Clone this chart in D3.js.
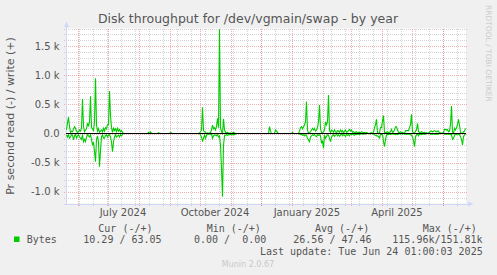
<!DOCTYPE html>
<html>
<head>
<meta charset="utf-8">
<script src="https://cdn.jsdelivr.net/npm/d3@7"></script>
<style>
  html, body { margin: 0; padding: 0; background: #f0f0f0; }
  svg { display: block; }
</style>
</head>
<body>
<script>
// ---------------- DATA ----------------
const startDate = "2024-05-20T01:00:03Z";
const endDate = "2025-06-24T01:00:03Z";

// daily averages, bytes per second (write = up, read = down)
const writeValues = [
  60,180,280,120,20,40,30,80,117,90,40,20,30,60,40,90,591,120,30,60,
  80,180,120,200,640,100,85,40,200,946,150,40,85,20,40,60,30,89,40,100,
  80,150,150,729,300,100,20,90,50,80,30,90,40,70,30,50,20,0,0,0,
  0,0,0,0,0,0,0,0,0,0,0,0,0,0,0,0,0,0,0,0,
  0,0,20,0,30,0,0,0,0,0,0,0,15,0,0,0,0,0,0,0,
  0,0,0,0,20,10,0,0,0,0,0,0,0,0,0,0,0,0,0,0,
  0,0,0,0,0,0,0,0,0,0,0,0,0,10,30,60,449,50,30,20,
  0,10,5,10,20,60,146,80,100,60,120,260,100,1786,100,30,0,250,60,20,
  10,20,10,0,10,0,10,20,10,0,0,0,0,0,0,0,0,0,0,0,
  0,0,0,0,0,0,0,0,0,0,0,0,0,0,0,0,0,0,0,0,
  0,0,0,117,40,0,0,0,0,60,40,20,0,0,0,0,0,0,0,0,
  0,0,0,0,0,0,20,0,0,0,0,0,0,40,100,117,80,117,146,200,
  546,60,0,10,30,60,89,60,89,40,60,100,200,489,80,20,0,30,60,200,
  150,200,660,50,20,60,50,20,60,30,10,50,40,20,60,30,50,10,40,60,
  20,30,50,70,40,60,20,30,10,20,30,10,20,20,10,30,20,10,20,10,
  20,10,0,0,10,10,0,20,100,150,243,20,0,10,100,100,214,306,20,10,
  20,30,10,20,30,71,20,30,60,117,117,60,20,10,30,10,20,10,0,50,
  50,50,50,100,150,329,30,10,0,40,60,174,30,20,10,30,20,10,20,10,
  10,0,10,20,40,40,30,40,50,40,30,40,40,10,10,0,10,10,70,70,
  60,70,30,40,150,471,30,0,89,60,100,150,243,146,20,0,0,30,40,89
];
const readValues = [
  -20,-60,-20,-80,-60,-20,-30,-110,-40,-20,-80,-40,-20,-60,-80,-100,-20,-140,-100,-140,
  -60,-20,-40,-60,-20,-100,-200,-150,-300,-483,-100,-40,-150,-570,-300,-60,-20,-80,-80,-30,
  -20,-60,-30,-20,-60,-150,-311,-150,-60,-20,-60,-40,-30,-60,-20,-40,-20,0,0,0,
  0,0,0,0,0,0,0,0,0,0,0,0,0,0,0,0,0,0,0,0,
  0,0,0,0,0,0,0,0,0,0,0,0,0,0,0,0,0,0,0,0,
  0,0,0,0,0,0,0,0,0,0,0,0,0,0,0,0,0,0,0,0,
  0,0,0,0,0,0,0,0,0,0,0,0,0,0,-30,-60,-140,-80,-30,-83,
  -30,-10,-10,-10,-10,-10,-83,-40,-20,-30,-40,-20,-60,-40,-200,-600,-1083,-200,-40,-30,
  -20,-30,-20,-20,-20,-20,-20,-20,-20,-10,0,0,0,0,0,0,0,0,0,0,
  0,0,0,0,0,0,0,0,0,0,0,0,0,0,0,0,0,0,0,0,
  0,0,0,0,0,0,0,0,0,0,0,0,0,0,0,0,0,0,0,0,
  0,0,0,0,0,0,0,0,0,0,0,0,0,-10,-20,-10,-30,-20,-40,-20,
  -30,-83,-111,-140,-60,-40,-20,-30,-20,-40,-54,-20,-30,-20,-40,-169,-120,-254,-30,-83,
  -50,-20,-30,-83,-140,-60,-40,-20,-50,-30,-10,-40,-20,-50,-30,-10,-40,-20,-30,-50,
  -10,-30,-20,-40,-10,-20,-10,-20,-30,-10,-20,-10,-10,-20,-10,0,-10,-10,0,-10,
  0,0,0,0,-10,0,0,-10,-20,-30,-40,-40,-54,-80,-10,-20,-10,-140,-226,-100,
  -30,-10,-20,-10,-20,-10,0,-10,-10,-20,-10,-20,-10,0,-10,0,-10,0,-10,-10,
  -10,-10,-10,-10,-20,-30,-60,-120,-226,-60,-20,-10,-40,-10,-10,-20,-10,-10,-10,-10,
  0,0,0,0,-10,-10,-10,-10,-10,-10,-10,-10,-10,0,0,0,0,0,-10,-10,
  -10,-10,-10,-10,-20,-20,-100,-83,-30,-10,-20,-10,-10,-20,-54,-100,-197,-60,-20,-10
];

const yTickValues = [-1000, -500, 0, 500, 1000, 1500];
const yTickLabels = ["-1.0 k", "-0.5 k", "0.0", "0.5 k", "1.0 k", "1.5 k"];
const xLabelDates = ["2024-07-01", "2024-10-01", "2025-01-01", "2025-04-01"];
const xLabelTexts = ["July 2024", "October 2024", "January 2025", "April 2025"];

const legendHeaders = ["Cur (-/+)", "Min (-/+)", "Avg (-/+)", "Max (-/+)"];
const legendValues = ["10.29 / 63.05", "0.00 /  0.00", "26.56 / 47.46", "115.96k/151.81k"];
const seriesName = "Bytes";
const titleText = "Disk throughput for /dev/vgmain/swap - by year";
const yAxisTitle = "Pr second read (-) / write (+)";
const lastUpdate = "Last update: Tue Jun 24 01:00:03 2025";
const footer = "Munin 2.0.67";
const watermark = "RRDTOOL / TOBI OETIKER";

// ---------------- LAYOUT ----------------
const W = 497, H = 275;
const X0 = 66, X1 = 466, YT = 28.5, YB = 203.5;
const green = "#00cc00";
const fontColor = "#555555";
const axisColor = "#cfd6f8";
const minorGrid = "rgba(143,143,143,0.38)";
const majorGrid = "rgba(222,79,79,0.45)";

const svg = d3.select("body").append("svg")
  .attr("width", W).attr("height", H)
  .style("font-family", "'DejaVu Sans', sans-serif");

svg.append("rect").attr("width", W).attr("height", H).attr("fill", "#f0f0f0");

const t0 = new Date(startDate), t1 = new Date(endDate);
const x = d3.scaleUtc().domain([t0, t1]).range([X0, X1]);
const y = d3.scaleLinear().domain([-1200, 1800]).range([YB, YT]);

// canvas
svg.append("rect").attr("x", X0).attr("y", YT).attr("width", X1 - X0).attr("height", YB - YT).attr("fill", "#ffffff");

const grid = svg.append("g").attr("shape-rendering", "crispEdges");

// horizontal grid
const yGrid = d3.range(-1200, 1801, 100);
yGrid.filter(v => v % 500 !== 0).forEach(v => {
  grid.append("line").attr("x1", X0 - 2).attr("x2", X1 + 2)
    .attr("y1", Math.round(y(v)) + 0.5).attr("y2", Math.round(y(v)) + 0.5)
    .attr("stroke", minorGrid).attr("stroke-dasharray", "1,1");
});

// vertical minor grid: every second Sunday
const sundays = d3.utcSunday.range(t0, t1).filter((d, i) => i % 2 === 1);
sundays.forEach(d => {
  const px = Math.round(x(d)) + 0.5;
  grid.append("line").attr("x1", px).attr("x2", px).attr("y1", YT).attr("y2", YB + 2)
    .attr("stroke", minorGrid).attr("stroke-dasharray", "1,1");
});

// major horizontal
yGrid.filter(v => v % 500 === 0).forEach(v => {
  grid.append("line").attr("x1", X0 - 2).attr("x2", X1 + 2)
    .attr("y1", Math.round(y(v)) + 0.5).attr("y2", Math.round(y(v)) + 0.5)
    .attr("stroke", majorGrid).attr("stroke-dasharray", "1,1");
});
// major vertical: month starts
d3.utcMonth.range(t0, t1).forEach(d => {
  const px = Math.round(x(d)) + 0.5;
  grid.append("line").attr("x1", px).attr("x2", px).attr("y1", YT).attr("y2", YB + 3)
    .attr("stroke", majorGrid).attr("stroke-dasharray", "1,1");
});

// axes
svg.append("line").attr("x1", X0 + 0.5).attr("x2", X0 + 0.5).attr("y1", YB + 1).attr("y2", YT - 4)
  .attr("stroke", axisColor).attr("shape-rendering", "crispEdges");
svg.append("line").attr("x1", X0 - 2).attr("x2", X1 + 4).attr("y1", YB + 0.5).attr("y2", YB + 0.5)
  .attr("stroke", axisColor).attr("shape-rendering", "crispEdges");
svg.append("path").attr("d", `M${X0 - 2},${YT - 1.5} L${X0 + 0.5},${YT - 7} L${X0 + 3},${YT - 1.5} Z`).attr("fill", axisColor);
svg.append("path").attr("d", `M${X1 + 2},${YB - 2} L${X1 + 7.5},${YB + 0.5} L${X1 + 2},${YB + 3} Z`).attr("fill", axisColor);

// data lines
const dayMs = 86400000;
const pts = arr => arr.map((v, i) => [new Date(t0.getTime() + (i + 0.5) * dayMs), v]);
const line = d3.line().x(d => x(d[0])).y(d => y(d[1]));
svg.append("path").attr("d", line(pts(readValues))).attr("fill", "none").attr("stroke", green).attr("stroke-width", 1.1);
svg.append("path").attr("d", line(pts(writeValues))).attr("fill", "none").attr("stroke", green).attr("stroke-width", 1.1);

// zero line
svg.append("line").attr("x1", X0).attr("x2", X1).attr("y1", y(0)).attr("y2", y(0))
  .attr("stroke", "#000").attr("stroke-width", 1);

// y tick labels
yTickValues.forEach((v, i) => {
  svg.append("text").attr("x", 59.5).attr("y", y(v) + 3.6).attr("text-anchor", "end")
    .attr("font-size", "10px").attr("fill", fontColor).text(yTickLabels[i]);
});

// x labels (centred mid-month like rrdtool)
xLabelDates.forEach((d, i) => {
  const dt = new Date(d + "T00:00:00Z");
  const c = x(new Date(dt.getTime() + 15 * dayMs));
  svg.append("text").attr("x", c).attr("y", 216).attr("text-anchor", "middle")
    .attr("font-size", "10px").attr("fill", fontColor).text(xLabelTexts[i]);
});

// title
svg.append("text").attr("x", 248).attr("y", 23).attr("text-anchor", "middle")
  .attr("font-size", "12.5px").attr("fill", fontColor).text(titleText);

// y axis title
svg.append("text").attr("transform", `translate(14,${(YT + YB) / 2}) rotate(-90)`)
  .attr("text-anchor", "middle").attr("font-size", "11px").attr("fill", fontColor).text(yAxisTitle);

// watermark
svg.append("text").attr("transform", "translate(485.5,5) rotate(90)")
  .attr("font-size", "7.5px").attr("fill", "#cccccc").text(watermark);

// legend
const mono = "'DejaVu Sans Mono', monospace";
const headerX = [98.3, 206.7, 315, 422.7];
const valueX = [83.3, 194, 293.3, 392.3];
legendHeaders.forEach((h, i) => {
  svg.append("text").attr("x", headerX[i]).attr("y", 231.5).attr("font-family", mono)
    .attr("font-size", "10px").attr("fill", fontColor).attr("xml:space", "preserve").text(h);
  svg.append("text").attr("x", valueX[i]).attr("y", 243.3).attr("font-family", mono)
    .attr("font-size", "10px").attr("fill", fontColor).attr("xml:space", "preserve")
    .style("white-space", "pre").text(legendValues[i]);
});
svg.append("rect").attr("x", 14).attr("y", 236.5).attr("width", 5.5).attr("height", 5.5).attr("fill", green);
svg.append("text").attr("x", 26.7).attr("y", 243.3).attr("font-family", mono)
  .attr("font-size", "10px").attr("fill", fontColor).text(seriesName);
svg.append("text").attr("x", 482.7).attr("y", 255).attr("text-anchor", "end").attr("font-family", mono)
  .attr("font-size", "10px").attr("fill", fontColor).text(lastUpdate);
svg.append("text").attr("x", 248).attr("y", 266.5).attr("text-anchor", "middle")
  .attr("font-size", "8px").attr("fill", "#c8c8c8").text(footer);
</script>
</body>
</html>
